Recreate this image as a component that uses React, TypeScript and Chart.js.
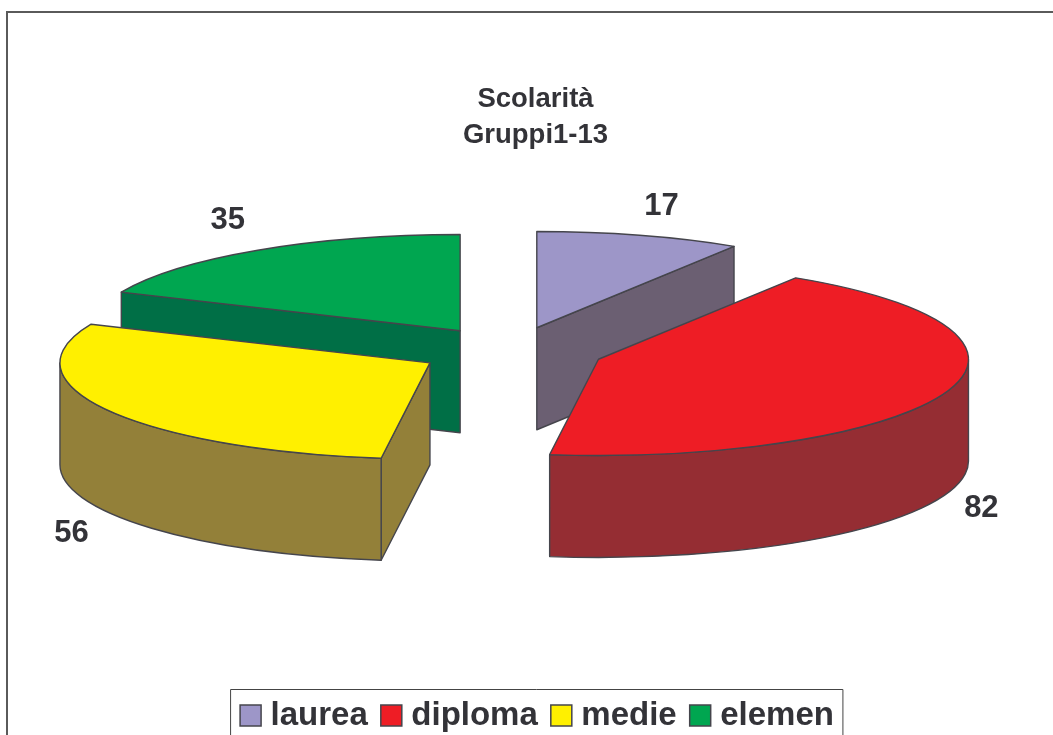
import React, { useEffect, useRef } from "react";
import { Chart, registerables } from "chart.js";

Chart.register(...registerables);

const categories = ["laurea", "diploma", "medie", "elemen"];
const values = [17, 82, 56, 35];
const titleLines = ["Scolarità", "Gruppi1-13"];
const topColors = ["#9D96C8", "#EE1D25", "#FFF000", "#00A650"];
const sideColors = ["#6B5F72", "#952D33", "#938039", "#006F46"];
const paintOrder = [3, 0, 2, 1];
const labelNudges = [[22, -29], [35, 116], [-36, 123], [-30, -30]];

const INK = "#333338";
const EDGE = "#45454c";
const CX = 511;
const CY = 351;
const SQUASH = 0.26;
const DEPTH = 102;
const RADIUS = 370;
const EXPLODE = 372; // Chart.js draws arcs offset by a quarter of this

function wedge(arc: any) {
  const a0 = arc.$a0;
  const a1 = arc.$a1;
  const mid = (a0 + a1) / 2;
  const off = (arc.options.offset || 0) / 4;
  return {
    a0,
    a1,
    r: RADIUS,
    ex: CX + off * Math.cos(mid),
    ey: CY + SQUASH * off * Math.sin(mid),
    mid,
  };
}

const pie3d = {
  id: "pie3d",
  afterLayout(chart: any) {
    // the legend swatches hang left of their item box, so it sits 5px further right than the title
    chart.titleBlock.left -= 10;
  },
  afterDatasetsUpdate(chart: any) {
    // ArcElement grows an offset arc by offset * fix and trims its sweep to suit;
    // undo both so all four wedges share one radius and keep their true angles
    for (const arc of chart.getDatasetMeta(0).data) {
      const off = (arc.options.offset || 0) / 4;
      const fix = 1 - Math.sin(Math.min(Math.PI, arc.circumference || 0));
      const grow = off * fix;
      const trim = grow / (2 * Math.PI * RADIUS);
      arc.$a0 = arc.startAngle;
      arc.$a1 = arc.endAngle;
      arc.outerRadius = RADIUS - grow;
      arc.startAngle -= trim;
      arc.endAngle += trim;
    }
  },
  beforeDatasetsDraw(chart: any) {
    const { ctx } = chart;
    const arcs = chart.getDatasetMeta(0).data;
    ctx.save();
    ctx.strokeStyle = EDGE;
    ctx.lineWidth = 1.4;
    ctx.lineJoin = "round";
    for (const i of paintOrder) {
      const w = wedge(arcs[i]);
      const ry = w.r * SQUASH;
      const at = (a: number) => [w.ex + w.r * Math.cos(a), w.ey + ry * Math.sin(a)];
      ctx.fillStyle = sideColors[i];
      const faces = [
        { a: w.a0, facing: -Math.cos(w.a0) },
        { a: w.a1, facing: Math.cos(w.a1) },
      ];
      for (const { a, facing } of faces) {
        if (facing <= 1e-6) continue;
        const [x, y] = at(a);
        ctx.beginPath();
        ctx.moveTo(w.ex, w.ey);
        ctx.lineTo(x, y);
        ctx.lineTo(x, y + DEPTH);
        ctx.lineTo(w.ex, w.ey + DEPTH);
        ctx.closePath();
        ctx.fill();
        ctx.stroke();
      }
      const f0 = Math.max(w.a0, 0);
      const f1 = Math.min(w.a1, Math.PI);
      if (f1 > f0) {
        ctx.beginPath();
        ctx.ellipse(w.ex, w.ey, w.r, ry, 0, f0, f1);
        ctx.ellipse(w.ex, w.ey + DEPTH, w.r, ry, 0, f1, f0, true);
        ctx.closePath();
        ctx.fill();
        ctx.stroke();
      }
    }
    ctx.restore();
    const a = arcs[0];
    ctx.save();
    ctx.translate(CX, CY);
    ctx.scale(1, SQUASH);
    ctx.translate(-a.x, -a.y);
  },
  afterDatasetsDraw(chart: any) {
    const { ctx } = chart;
    ctx.restore();
    const arcs = chart.getDatasetMeta(0).data;
    ctx.save();
    ctx.strokeStyle = EDGE;
    ctx.lineWidth = 1.4;
    ctx.lineJoin = "round";
    arcs.forEach((arc: any, i: number) => {
      const w = wedge(arc);
      ctx.beginPath();
      ctx.moveTo(w.ex, w.ey);
      ctx.ellipse(w.ex, w.ey, w.r, w.r * SQUASH, 0, w.a0, w.a1);
      ctx.closePath();
      ctx.stroke();
      ctx.fillStyle = INK;
      ctx.font = 'bold 31px "Liberation Sans"';
      ctx.textAlign = "center";
      ctx.textBaseline = "middle";
      const [nx, ny] = labelNudges[i];
      ctx.fillText(
        String(values[i]),
        w.ex + w.r * Math.cos(w.mid) + nx,
        w.ey + w.r * SQUASH * Math.sin(w.mid) + ny
      );
    });
    ctx.restore();
  },
  afterDraw(chart: any) {
    const { ctx, width, height } = chart;
    ctx.save();
    ctx.strokeStyle = "#5a5a5a";
    ctx.lineWidth = 2;
    ctx.beginPath();
    ctx.moveTo(7, height);
    ctx.lineTo(7, 12);
    ctx.lineTo(width, 12);
    ctx.stroke();
    const boxes = chart.legend.legendHitBoxes;
    const first = boxes[0];
    const last = boxes[boxes.length - 1];
    const left = first.left - 16.5;
    const right = last.left + last.width + 9;
    const top = first.top + first.height / 2 - 26;
    ctx.strokeStyle = "#444444";
    ctx.lineWidth = 1;
    ctx.beginPath();
    ctx.moveTo(left, height);
    ctx.lineTo(left, top);
    ctx.lineTo(right, top);
    ctx.lineTo(right, height);
    ctx.stroke();
    ctx.restore();
  },
};

export default function App() {
  const ref = useRef<HTMLCanvasElement | null>(null);
  useEffect(() => {
    document.body.style.margin = "0";
    document.body.style.background = "#ffffff";
    const chart = new Chart(ref.current as HTMLCanvasElement, {
      type: "pie",
      data: {
        labels: categories,
        datasets: [
          {
            data: values,
            backgroundColor: topColors,
            borderWidth: 0,
            offset: EXPLODE,
            radius: RADIUS,
            clip: false,
          } as any,
        ],
      },
      options: {
        responsive: false,
        animation: false,
        devicePixelRatio: 1,
        layout: { padding: { left: 28, bottom: -7 } },
        plugins: {
          tooltip: { enabled: false },
          title: {
            display: true,
            text: titleLines,
            color: INK,
            font: { family: '"Liberation Sans"', size: 27.5, weight: "bold", lineHeight: 1.3 },
            padding: { top: 82, bottom: 10 },
          },
          legend: {
            display: true,
            position: "bottom",
            labels: {
              color: INK,
              font: { family: '"Liberation Sans"', size: 33, weight: "bold", lineHeight: 1 },
              usePointStyle: true,
              boxWidth: 7,
              boxHeight: 21,
              padding: 20,
              generateLabels(c: any) {
                const base = (Chart as any).overrides.doughnut.plugins.legend.labels.generateLabels(c);
                return base.map((item: any) => ({
                  ...item,
                  pointStyle: "rect",
                  strokeStyle: "#45454c",
                  lineWidth: 1.5,
                }));
              },
            },
          },
        },
      } as any,
      plugins: [pie3d as any],
    });
    return () => chart.destroy();
  }, []);
  return (
    <div style={{ position: "absolute", left: 0, top: 0, width: 1053, height: 735, overflow: "hidden" }}>
      <canvas ref={ref} width={1053} height={735} style={{ display: "block" }} />
    </div>
  );
}
